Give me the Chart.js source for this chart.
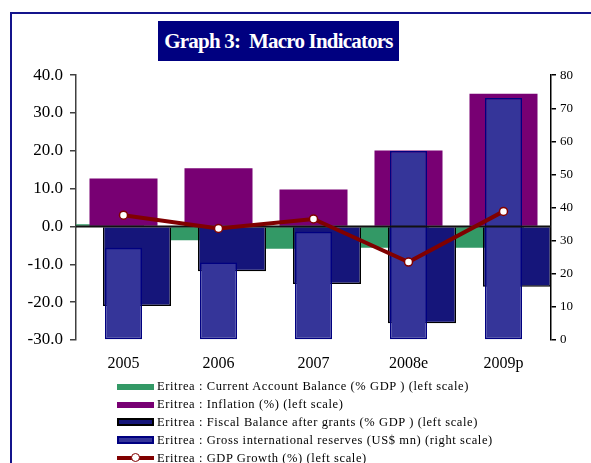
<!DOCTYPE html>
<html>
<head>
<meta charset="utf-8">
<script src="https://cdn.jsdelivr.net/npm/chart.js@4.4.1/dist/chart.umd.min.js"></script>
<style>
  html, body { margin: 0; padding: 0; background: #fff; width: 591px; height: 463px; overflow: hidden; }
  #frame { position: absolute; left: 10px; top: 12px; width: 700px; height: 600px;
           border-left: 2px solid #14148c; border-top: 2px solid #14148c; }
  #title { position: absolute; left: 158px; top: 21px; width: 241px; height: 40px; background: #000080;
           color: #fff; font: bold 21px "Liberation Serif", serif; letter-spacing: -0.8px; line-height: 40px;
           text-align: center; white-space: pre; }
  #chart { position: absolute; left: 0; top: 58px; }
  #legend { position: absolute; left: 117px; top: 378px; font: 12.5px "Liberation Serif", serif;
            letter-spacing: 0.6px; color: #000; }
  .row { height: 17.8px; display: flex; align-items: center; white-space: pre; }
  .sw { width: 37px; margin-right: 3px; box-sizing: border-box; position: relative; flex: none; }
</style>
</head>
<body>
<div id="frame"></div>
<div id="title">Graph 3:  Macro Indicators</div>
<canvas id="chart" width="591" height="322"></canvas>
<div id="legend"></div>
<script>
const years = ['2005', '2006', '2007', '2008e', '2009p'];
const currentAccount = [0.6, -3.6, -5.9, -5.6, -5.6];
const inflation = [12.7, 15.4, 9.8, 20.1, 35.1];
const fiscalBalance = [-21.0, -11.8, -15.2, -25.6, -15.9];
const reserves = [27.9, 23.4, 32.7, 57.1, 73.1];
const gdpGrowth = [3.0, -0.5, 2.0, -9.4, 4.0];

const leftTicks = { min: -30, max: 40, step: 10 };
const rightTicks = { min: 0, max: 80, step: 10 };

const serif = 'Liberation Serif';
// overlapping bars like Excel: shift in category units
const shift = 0.142;

const asPoints = arr => arr.map((v, i) => ({ x: i, y: v }));

// zero line drawn over the bars but under the GDP line
const zeroLine = {
  id: 'zeroLine',
  beforeDatasetDraw(chart, args) {
    if (args.index !== 4) return;
    const { ctx, chartArea } = chart;
    const y0 = chart.scales.y.getPixelForValue(0);
    ctx.save();
    ctx.strokeStyle = '#111';
    ctx.lineWidth = 2;
    ctx.beginPath();
    ctx.moveTo(chartArea.left, y0);
    ctx.lineTo(chartArea.right, y0);
    ctx.stroke();
    ctx.restore();
  }
};

const chart = new Chart(document.getElementById('chart').getContext('2d'), {
  type: 'bar',
  data: {
    labels: years,
    datasets: [
      {
        label: 'Eritrea : Current Account Balance (% GDP ) (left scale)',
        data: asPoints(currentAccount),
        xAxisID: 'xCA', yAxisID: 'y',
        backgroundColor: '#339966',
        grouped: false, categoryPercentage: 1, barPercentage: 0.716,
        order: 5
      },
      {
        label: 'Eritrea : Inflation (%) (left scale)',
        data: inflation,
        xAxisID: 'x', yAxisID: 'y',
        backgroundColor: '#780073',
        grouped: false, categoryPercentage: 1, barPercentage: 0.716,
        order: 4
      },
      {
        label: 'Eritrea : Fiscal Balance after grants (% GDP ) (left scale)',
        data: asPoints(fiscalBalance),
        xAxisID: 'xFB', yAxisID: 'y',
        backgroundColor: '#15157a',
        borderColor: '#000',
        borderWidth: 1.5,
        grouped: false, categoryPercentage: 1, barPercentage: 0.716,
        order: 3
      },
      {
        label: 'Eritrea : Gross international reserves (US$ mn) (right scale)',
        data: reserves,
        xAxisID: 'x', yAxisID: 'y2',
        backgroundColor: '#353599',
        borderColor: '#000080',
        borderWidth: 1.5,
        borderSkipped: false,
        grouped: false, categoryPercentage: 1, barPercentage: 0.39,
        order: 2
      },
      {
        type: 'line',
        label: 'Eritrea : GDP Growth (%) (left scale)',
        data: gdpGrowth,
        xAxisID: 'x', yAxisID: 'y',
        borderColor: '#800000',
        borderWidth: 4,
        tension: 0,
        pointRadius: 4,
        pointBackgroundColor: '#fff',
        pointBorderColor: '#800000',
        pointBorderWidth: 1.5,
        order: 1
      }
    ]
  },
  options: {
    responsive: false,
    animation: false,
    layout: { padding: { top: 13 } },
    plugins: { legend: { display: false }, tooltip: { enabled: false } },
    scales: {
      x: {
        type: 'category',
        offset: true,
        grid: { display: false, drawTicks: false },
        border: { display: false },
        ticks: { color: '#000', font: { family: serif, size: 16 }, padding: 14 },
        afterFit: s => { s.height = 40; }
      },
      xCA: {
        type: 'linear', display: false, bounds: 'data', offset: false,
        min: -0.5 + shift, max: years.length - 0.5 + shift,
        ticks: { stepSize: 1 }
      },
      xFB: {
        type: 'linear', display: false, bounds: 'data', offset: false,
        min: -0.5 - shift, max: years.length - 0.5 - shift,
        ticks: { stepSize: 1 }
      },
      y: {
        position: 'left',
        min: leftTicks.min, max: leftTicks.max,
        ticks: {
          stepSize: leftTicks.step, color: '#000', padding: 7,
          font: { family: serif, size: 17 },
          callback: v => v.toFixed(1)
        },
        grid: { drawOnChartArea: false, tickLength: 6, tickColor: '#404040', lineWidth: 1.5 },
        border: { color: '#404040', width: 1.5 },
        afterFit: s => { s.width = 76; }
      },
      y2: {
        position: 'right',
        min: rightTicks.min, max: rightTicks.max,
        ticks: { stepSize: rightTicks.step, color: '#000', padding: 4, font: { family: serif, size: 13 } },
        grid: { drawOnChartArea: false, tickLength: 5, tickColor: '#000', lineWidth: 1.5 },
        border: { color: '#000', width: 1.5 },
        afterFit: s => { s.width = 40; }
      }
    }
  },
  plugins: [zeroLine]
});

// legend in the Excel style, one entry per row
const legend = document.getElementById('legend');
chart.data.datasets.forEach(ds => {
  const row = document.createElement('div');
  row.className = 'row';
  const sw = document.createElement('div');
  sw.className = 'sw';
  if (ds.type === 'line') {
    sw.style.height = '4px';
    sw.style.background = ds.borderColor;
    const dot = document.createElement('div');
    dot.style.cssText = 'position:absolute;left:14px;top:-3px;width:7px;height:7px;border-radius:50%;background:#fff;border:1.5px solid ' + ds.borderColor;
    sw.appendChild(dot);
  } else {
    sw.style.height = ds.borderWidth ? '8px' : '6px';
    sw.style.background = ds.backgroundColor;
    if (ds.borderWidth) sw.style.border = '2px solid ' + ds.borderColor;
  }
  row.appendChild(sw);
  const txt = document.createElement('span');
  txt.textContent = ds.label;
  row.appendChild(txt);
  legend.appendChild(row);
});
</script>
</body>
</html>
